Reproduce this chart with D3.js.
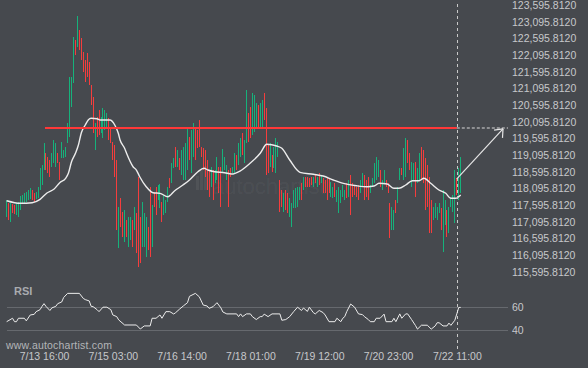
<!DOCTYPE html>
<html><head><meta charset="utf-8">
<script src="https://cdn.jsdelivr.net/npm/d3@7"></script>
<style>html,body{margin:0;padding:0;background:#46494e;} svg{display:block;}</style>
</head><body><div id="chart"></div>
<script>
// ---------- data ----------
const timeLabels = ["7/13 16:00","7/15 03:00","7/16 14:00","7/18 01:00","7/19 12:00","7/20 23:00","7/22 11:00"];
const timeLabelIdx = [19,54,89,124,159,194,229];
const priceTicks = [123595.812,123095.812,122595.812,122095.812,121595.812,121095.812,120595.812,120095.812,119595.812,119095.812,118595.812,118095.812,117595.812,117095.812,116595.812,116095.812,115595.812];
const rsiTicks = [60,40];

const opens = [117236,117656,117086,117626,117596,117296,117236,117446,117626,117656,
117686,117746,117776,118046,117956,117776,117806,118046,118196,118646,
119156,119036,118946,118736,118856,118736,119156,118886,119006,119006,
119036,119456,119636,120536,121256,122546,122336,122846,122606,122186,
121946,122156,121886,121196,120836,119246,120236,120446,119756,119606,
119846,119906,120206,119936,119486,119396,118946,116306,117806,117386,
116486,117146,116336,116546,117146,116846,117356,118436,117236,116336,
116336,116036,116936,118136,116336,117986,118136,117746,117506,117686,
117296,117356,117686,118406,118256,118706,119336,118736,119006,118496,
118346,118346,118646,119636,118556,119036,119936,119846,120146,119336,
119306,119246,118946,118646,118136,118646,118256,118346,118736,118736,
118556,118646,118346,118646,118706,118556,118556,119096,118796,119036,
119756,118856,119456,120356,120536,119696,119786,119936,120596,119936,
119936,120956,120506,119396,118736,119096,118706,118556,119036,118346,
118046,117386,118046,117956,117236,116936,117506,117506,117536,117746,
118256,118046,118436,118436,118406,118436,118136,118496,118136,118556,
118256,118406,118346,118436,118406,117836,117806,118256,117686,117356,
117656,117836,117746,118256,117836,118496,118256,118196,118136,118196,
117956,118136,118496,118346,118436,117956,118136,118256,118346,118436,
118646,118046,118256,118346,118256,117656,116846,116846,117746,117656,
118346,118706,118346,118436,119546,119156,118136,118346,118886,118256,
118346,119336,119246,119006,118796,118436,117746,117146,117206,117146,
117356,117506,116186,116996,117446,116756,117536,117386,117056,118406,
117746,117956];
const highs = [117746,117656,117656,117626,117596,117656,117686,117866,117896,117956,
117986,118046,118106,118046,117956,117986,118136,118706,118796,119456,
119156,119036,118946,119156,119546,119456,119156,118886,119486,119246,
119336,120056,121436,121436,122636,122546,123266,122846,122606,122186,
121946,122156,121886,121196,120836,120056,120236,120446,120236,120506,
120446,120356,120206,119936,119486,119396,118946,117536,117806,117386,
117446,117146,117236,117236,117146,117536,117356,118436,117236,117686,
117356,117236,116936,118136,117596,117986,118136,118196,118226,117686,
117896,117746,118136,118406,118856,119006,119336,119246,119006,119246,
119336,119456,119906,119636,119846,120056,119936,119846,120146,119336,
119306,119246,118946,118646,118736,118646,118646,119036,118736,118736,
119276,119036,118796,118646,118706,118736,119156,119096,119456,119606,
119756,119546,121046,120356,120536,120956,120896,120656,120596,120656,
120746,120956,120506,119396,119456,119096,119336,119606,119486,118346,
118046,117956,118046,117956,117806,117656,118046,118106,118136,118136,
118256,118436,118436,118436,118406,118436,118436,118496,118436,118556,
118496,118406,118346,118436,118406,118286,118136,118256,118046,118136,
118046,118196,118046,118256,118346,118496,118256,118196,118136,118196,
118346,118556,118496,118346,118436,118196,118406,118856,119036,118946,
118646,118346,118646,118346,118256,117656,117536,117446,117746,118136,
118706,118706,119306,119606,119546,119156,118886,118856,118886,118706,
119156,119336,119246,119006,118796,118436,117746,117536,117656,117536,
117656,117506,118046,117746,117446,117536,117836,117896,118646,118406,
118706,119036];
const lows = [117236,117146,117086,117356,117326,117296,117236,117446,117626,117656,
117686,117746,117776,117746,117686,117776,117806,118046,118196,118646,
118646,118556,118436,118736,118856,118736,118856,118346,119006,119006,
119036,119456,119636,120536,121256,122096,122336,122246,121946,121586,
121286,121436,121196,120596,119756,119246,119636,119696,119756,119606,
119846,119906,119546,119456,118946,118436,116846,116306,116936,116636,
116486,116636,116336,116546,116336,116846,116156,115736,115856,116336,
116336,116036,116246,116036,116336,117536,117296,117746,117506,117086,
117296,117356,117686,118106,118256,118706,118736,118736,118646,118496,
118346,118346,118646,118946,118556,119036,118946,119306,119336,119036,
118646,118436,118046,117836,118136,117746,118256,118346,117956,117536,
118556,118646,118346,117536,118436,118556,118556,118646,118796,119036,
119096,118856,119456,119486,119606,119696,119786,119936,119936,119936,
119936,120146,118496,118556,118736,118586,118706,118556,119036,117386,
117536,117386,117446,117356,117236,116936,117506,117506,117536,117746,
117746,118046,118136,118136,118136,118196,118136,118256,118136,118196,
118256,117956,117956,117746,117956,117836,117806,117836,117686,117356,
117656,117836,117746,117806,117836,117296,117836,117896,117836,117746,
117956,118136,117746,117836,117746,117956,118136,118256,118346,118436,
118136,118046,118256,118136,117956,116606,116846,116846,117356,117656,
118346,118496,118346,118436,118856,118646,118136,118346,117836,118256,
118346,118346,118256,117446,117536,116756,116756,117146,117206,117146,
117356,116846,116186,116996,116636,116756,117536,117386,117056,117896,
117746,117956];
const closes = [117746,117146,117656,117356,117326,117656,117686,117866,117896,117956,
117986,118046,118106,117746,117686,117986,118136,118706,118796,119456,
118646,118556,118436,119156,119546,119456,118856,118346,119486,119246,
119336,120056,121436,121436,122636,122096,123266,122246,121946,121586,
121286,121436,121196,120596,119756,120056,119636,119696,120236,120506,
120446,120356,119546,119456,118946,118436,116846,117536,116936,116636,
117446,116636,117236,117236,116336,117536,116156,115736,115856,117686,
117356,117236,116246,116036,117596,117536,117296,118196,118226,117086,
117896,117746,118136,118106,118856,119006,118736,119246,118646,119246,
119336,119456,119906,118946,119846,120056,118946,119306,119336,119036,
118646,118436,118046,117836,118736,117746,118646,119036,117956,117536,
119276,119036,118796,117536,118436,118736,119156,118646,119456,119606,
119096,119546,121046,119486,119606,120956,120896,120656,119936,120656,
120746,120146,118496,118556,119456,118586,119336,119606,119486,117386,
117536,117956,117446,117356,117806,117656,118046,118106,118136,118136,
117746,118436,118136,118136,118136,118196,118436,118256,118436,118196,
118496,117956,117956,117746,117956,118286,118136,117836,118046,118136,
118046,118196,118046,117806,118346,117296,117836,117896,117836,117746,
118346,118556,117746,117836,117746,118196,118406,118856,119036,118946,
118136,118346,118646,118136,117956,116606,117536,117446,117356,118136,
118706,118496,119306,119606,118856,118646,118886,118856,117836,118706,
119156,118346,118256,117446,117536,116756,116756,117536,117656,117536,
117656,116846,118046,117746,116636,117536,117836,117896,118646,117896,
118706,119036];

const maIdx = [0,7,13,17,20.5,24,27,30,31.4,33,35,36.5,38,40,41.5,43,46,47.5,52.5,55,56.8,57.7,60,61,64.3,66,67.7,71,74.5,78,82,85.5,89.7,93,97.3,100.4,102.4,105.8,110.9,114.4,118.7,123.8,129,132.3,137.4,140,144,149.2,156,161,166.2,171.3,178,183.5,186.9,189.4,193.6,197,199.6,203,206.4,209.8,212.3,215.7,219.9,223.4,225.9,228.4,231];
const maVal = [117725,117647,117665,117767,117956,118067,118265,118397,118547,118895,119147,119396,119765,119996,120146,120197,120185,120146,120146,119996,119747,119546,119297,119147,118745,118646,118445,118145,117965,117947,117845,118025,118196,118346,118595,118697,118646,118595,118565,118526,118616,118847,119147,119417,119366,119297,118946,118577,118517,118466,118346,118247,118175,118145,118166,118247,118226,118097,118097,118196,118325,118325,118397,118247,118046,117947,117797,117797,117896];

const rsiIdx = [0,3,4,5,6,9,10,12,14,15,17,18,19,20,22,23,25,26,28,29,31,37,39,40,42,43,44,46,47,49,51,53,54,56,57,60,66,68,70,73,74,76,78,79,81,83,85,86,88,90,92,93,96,98,100,102,103,105,107,109,110,112,117,118,119,120,122,124,125,127,129,130,131,133,135,139,140,142,144,146,148,150,151,153,154,156,157,159,161,162,164,167,168,170,171,172,173,175,177,179,181,182,184,185,187,188,190,192,193,196,197,198,200,201,203,204,206,208,209,211,214,216,218,219,220,222,224,225,226,228,229,230,231];
const rsiVal = [47.3,50.2,47.3,47.3,50.2,50.2,48,53,53.5,55.8,57.5,60.3,62.6,60.3,56.8,59,60.3,62.6,64,67.8,71.3,71.3,67,66,64.9,60.3,60,57.5,55.8,59.6,59.6,57.5,53,51.6,48.8,44.5,44.5,41.1,43.7,43.7,50.2,50.2,53,50.2,55.8,55.8,53.8,55,58,60.8,63.4,68.8,71.3,68.4,61.4,60.6,58.6,60,63.4,59,55.5,53.9,53.9,51.6,53.9,51.6,53.9,53.9,51.6,49.1,51.6,51.6,53.7,51.6,53.9,53.9,48.5,49.1,51.6,55.8,59.6,56.8,58.9,56,59.6,55,53.9,56.8,55,53,47.3,47.3,50.2,47.3,50.2,51.6,55.8,62.3,59.6,53.9,53.3,51.6,49.1,47.3,47.3,50.2,50.2,53.7,47.3,47.3,50.2,47.3,53.9,50.2,53.9,53.9,49.1,44,41,44.3,44.3,41,43.7,46.4,46.4,43.7,43.7,46.1,44.2,48.5,53.9,59.4,59.4];

const resistanceLevel = 119906;
const levelStartIdx = 19.5;
const signalIdx = 229;
const forecastStart = [229, 118380];
const forecastEnd = [252.5, 119880];

// ---------- chart ----------
const W = 588, H = 368;
const FONT = "'Liberation Sans', Arial, sans-serif";
const BG = "#46494e", UP = "#16b27b", DOWN = "#f53d3d", TXT = "#c6c8cb";

const svg = d3.select("#chart").append("svg").attr("width", W).attr("height", H);
svg.append("rect").attr("width", W).attr("height", H).attr("fill", BG);

const x = d3.scaleLinear().domain([19, 229]).range([44, 456.8]);
const y = d3.scaleLinear().domain([115595.812, 123595.812]).range([271.7, 5]);
const yR = d3.scaleLinear().domain([40, 60]).range([330.3, 306.7]);

// watermark
const wm = svg.append("g").attr("fill", "#ffffff").attr("fill-opacity", 0.055);
wm.append("text").attr("x", 212).attr("y", 194).attr("font-family", FONT).attr("font-size", 22).text("autochartist");
[[196,176,3,14],[200,170,3,20],[204,166,3,24]].forEach(r => wm.append("rect").attr("x", r[0]).attr("y", r[1]).attr("width", r[2]).attr("height", r[3]));

// candles
const candles = svg.append("g");
opens.forEach((o, i) => {
  const up = closes[i] >= o;
  const top = y(highs[i]), bot = y(lows[i]);
  candles.append("rect")
    .attr("x", Math.floor(x(i)))
    .attr("y", top)
    .attr("width", 1)
    .attr("height", Math.max(1, bot - top))
    .attr("fill", up ? UP : DOWN);
});

// moving average
const ma = maIdx.map((d, i) => [d, maVal[i]]);
svg.append("path").datum(ma)
  .attr("fill", "none").attr("stroke", "#ececec").attr("stroke-width", 1.4)
  .attr("d", d3.line().x(d => x(d[0])).y(d => y(d[1])).curve(d3.curveMonotoneX));

// resistance level
svg.append("line")
  .attr("x1", x(levelStartIdx)).attr("x2", x(signalIdx))
  .attr("y1", y(resistanceLevel)).attr("y2", y(resistanceLevel))
  .attr("stroke", "#ff3838").attr("stroke-width", 2);
svg.append("line")
  .attr("x1", x(signalIdx)).attr("x2", 508)
  .attr("y1", y(resistanceLevel)).attr("y2", y(resistanceLevel))
  .attr("stroke", "#d8d8d8").attr("stroke-width", 1).attr("stroke-dasharray", "3,2");

// signal vertical dashed line
svg.append("line")
  .attr("x1", Math.round(x(signalIdx)) + 0.5).attr("x2", Math.round(x(signalIdx)) + 0.5)
  .attr("y1", 4).attr("y2", 351)
  .attr("stroke", "#c9c9c9").attr("stroke-width", 1).attr("stroke-dasharray", "3,3");

// forecast arrow
const ax1 = x(forecastStart[0]), ay1 = y(forecastStart[1]);
const ax2 = x(forecastEnd[0]), ay2 = y(forecastEnd[1]);
svg.append("line").attr("x1", ax1).attr("y1", ay1).attr("x2", ax2).attr("y2", ay2)
  .attr("stroke", "#e6e6e6").attr("stroke-width", 1.2);
const ang = Math.atan2(ay2 - ay1, ax2 - ax1);
[Math.PI * 0.78, -Math.PI * 0.78].forEach(a => {
  svg.append("line").attr("x1", ax2).attr("y1", ay2)
    .attr("x2", ax2 + 9 * Math.cos(ang + a)).attr("y2", ay2 + 9 * Math.sin(ang + a))
    .attr("stroke", "#e6e6e6").attr("stroke-width", 1.2);
});

// price axis
const yAxis = svg.append("g").attr("transform", "translate(511,0)")
  .call(d3.axisRight(y).tickValues(priceTicks).tickSize(0).tickPadding(1).tickFormat(d3.format(",.4f")));
yAxis.select(".domain").remove();
yAxis.selectAll("text").attr("fill", TXT).attr("font-family", FONT).attr("font-size", 10.5);

// RSI panel
svg.append("g").selectAll("line").data(rsiTicks).join("line")
  .attr("x1", 7).attr("x2", 508)
  .attr("y1", d => Math.round(yR(d)) + 0.5).attr("y2", d => Math.round(yR(d)) + 0.5)
  .attr("stroke", "#66696e").attr("stroke-width", 1);
const rAxis = svg.append("g").attr("transform", "translate(511,0)")
  .call(d3.axisRight(yR).tickValues(rsiTicks).tickSize(0).tickPadding(1).tickFormat(d3.format("d")));
rAxis.select(".domain").remove();
rAxis.selectAll("text").attr("fill", TXT).attr("font-family", FONT).attr("font-size", 10.5);

const rsi = rsiIdx.map((d, i) => [d, rsiVal[i]]);
svg.append("path").datum(rsi)
  .attr("fill", "none").attr("stroke", "#ececec").attr("stroke-width", 1)
  .attr("d", d3.line().x(d => x(d[0])).y(d => yR(d[1])));

svg.append("text").attr("x", 14).attr("y", 295)
  .attr("font-family", FONT).attr("font-size", 11).attr("font-weight", "bold")
  .attr("fill", "#a9abaf").text("RSI");

// time axis
const xAxis = svg.append("g").attr("transform", "translate(0,353)")
  .call(d3.axisBottom(x).tickValues(timeLabelIdx).tickSize(0).tickPadding(0).tickFormat((d, i) => timeLabels[i]));
xAxis.select(".domain").remove();
xAxis.selectAll("text").attr("fill", TXT).attr("font-family", FONT).attr("font-size", 10.5);

svg.append("text").attr("x", 6).attr("y", 349)
  .attr("font-family", FONT).attr("font-size", 10.5).attr("letter-spacing", 0.2)
  .attr("fill", "#b4b6b9").text("www.autochartist.com");
</script>
</body></html>
